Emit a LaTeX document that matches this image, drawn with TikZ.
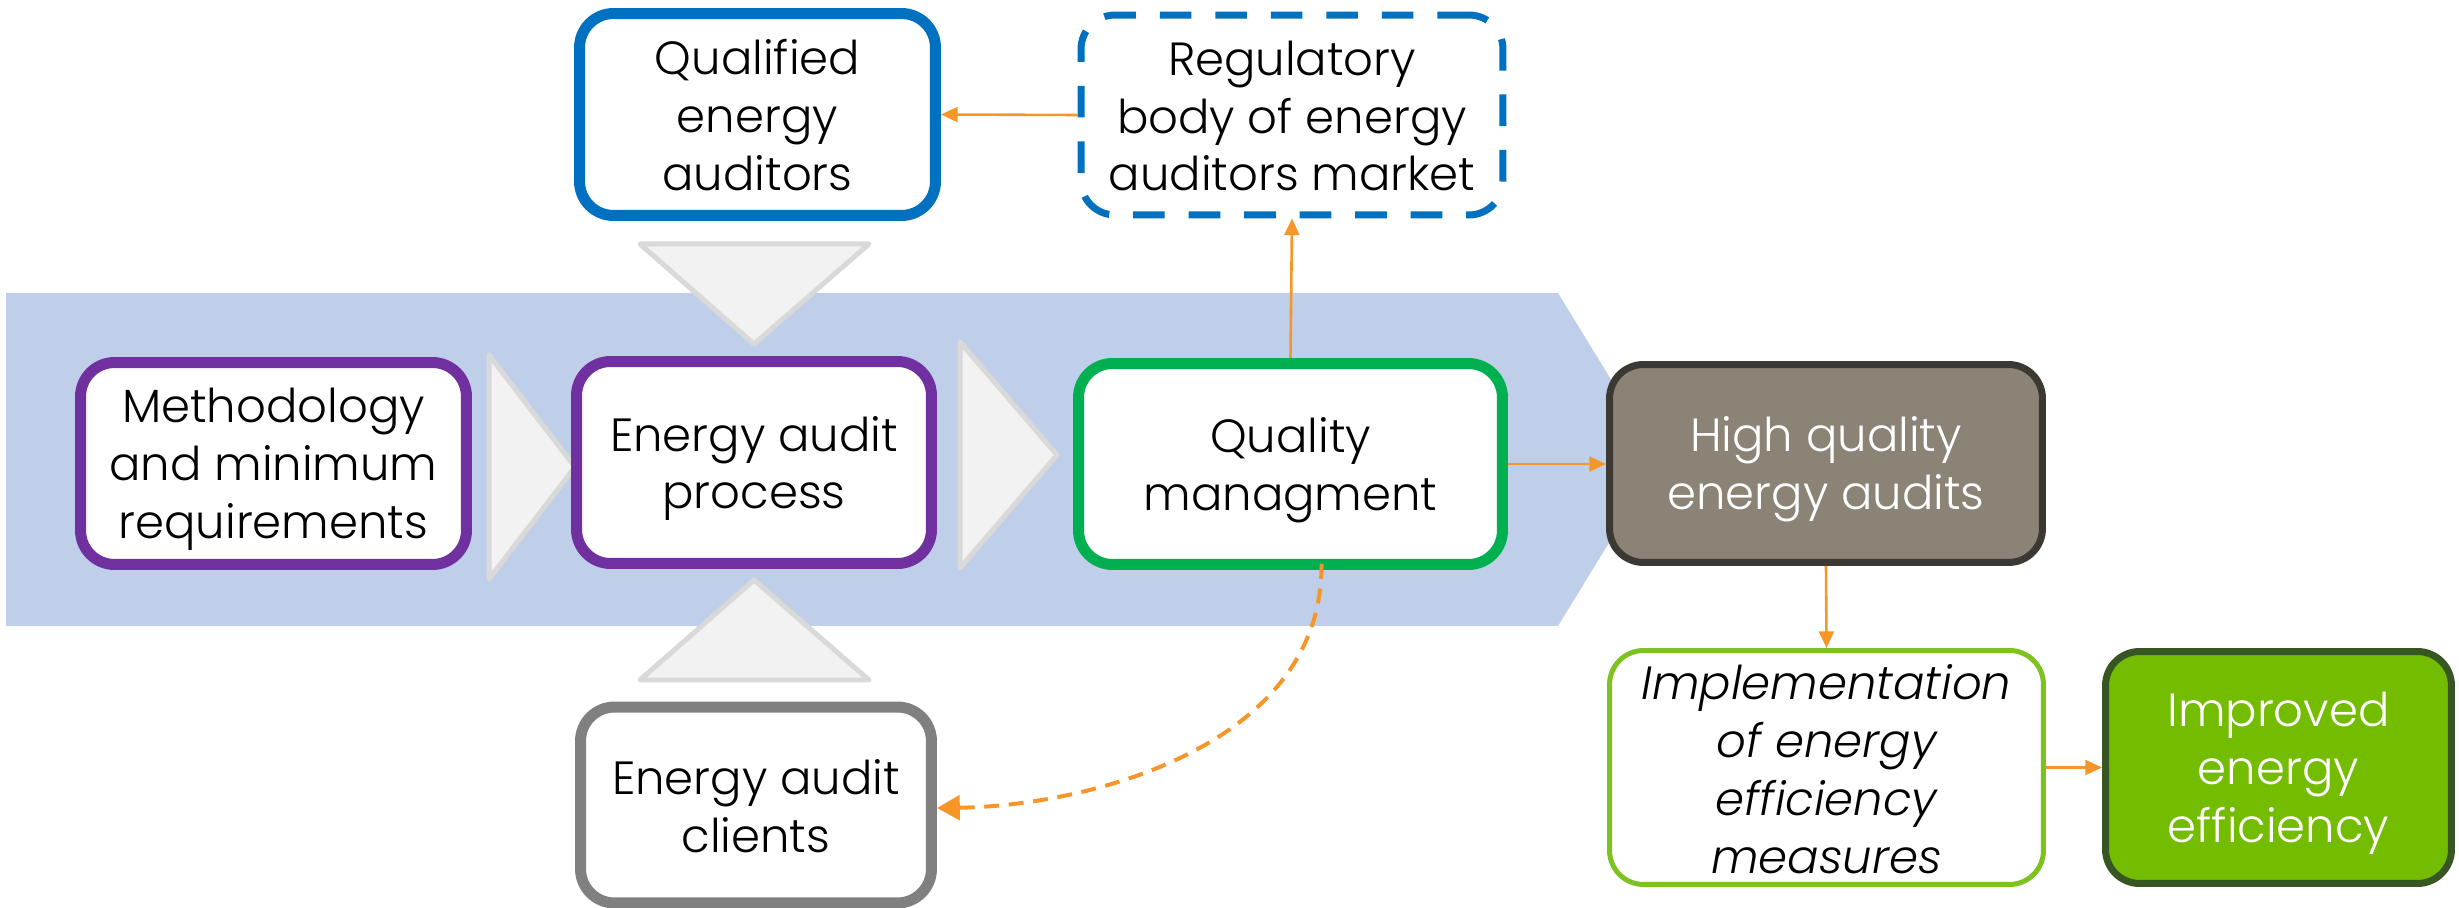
\documentclass[tikz,border=0pt]{standalone}
\usepackage{fontspec}
\setmainfont{Poppins Light}
\usetikzlibrary{arrows.meta,calc}

\definecolor{bandblue}{RGB}{191,207,234}
\definecolor{qblue}{RGB}{0,112,192}
\definecolor{qpurple}{RGB}{112,48,160}
\definecolor{qgreen}{RGB}{0,176,80}
\definecolor{hqfill}{RGB}{139,132,118}
\definecolor{hqline}{RGB}{60,56,52}
\definecolor{cligray}{RGB}{128,128,128}
\definecolor{implgreen}{RGB}{125,194,30}
\definecolor{imprfill}{RGB}{116,188,0}
\definecolor{imprline}{RGB}{55,86,35}
\definecolor{trifill}{RGB}{242,242,242}
\definecolor{triline}{RGB}{217,217,217}
\definecolor{flow}{RGB}{247,150,40}

% one drawing unit
\newcommand{\pu}{0.56905pt}

\tikzset{
  box/.style={rectangle, rounded corners=34*\pu, inner sep=0pt, fill=white},
  txt/.style={align=center, inner sep=0pt, font=\fontsize{26.5}{33}\selectfont},
  chevron/.style={fill=trifill, draw=triline, line width=5*\pu, line join=round},
  link/.style={draw=flow, line width=2.6*\pu, -{Triangle[length=9.5pt,width=8.5pt]}},
  feedback/.style={draw=flow, line width=4*\pu, dash pattern=on 8.5pt off 5.5pt,
    -{Triangle[length=13pt,width=14pt]}}
}

\begin{document}
\begin{tikzpicture}[x=0.02cm, y=-0.02cm]
\useasboundingbox (0,0) rectangle (2459,908);

% process band
\fill[bandblue] (6,293) -- (1558,293) -- (1660,459.5) -- (1558,626) -- (6,626) -- cycle;

% chevrons between the steps
\draw[chevron] (640,244) -- (869,244) -- (754,344) -- cycle;
\draw[chevron] (754,580) -- (869,680) -- (640,680) -- cycle;
\draw[chevron] (489,355) -- (575,467) -- (489,579) -- cycle;
\draw[chevron] (960,342) -- (1057,455) -- (960,568) -- cycle;

% boxes
\node[box, draw=qblue, line width=11*\pu, minimum width=356*\pu, minimum height=202*\pu]
  (qual) at (757.5,114.5) {};
\node[box, draw=qblue, line width=7*\pu, dash pattern=on 18pt off 13.6pt,
  minimum width=422*\pu, minimum height=200*\pu] (reg) at (1292,115) {};
\node[box, draw=qpurple, line width=11*\pu, minimum width=386*\pu, minimum height=202*\pu]
  (meth) at (273.5,463.5) {};
\node[box, draw=qpurple, line width=11*\pu, minimum width=355*\pu, minimum height=202*\pu]
  (proc) at (754,462.5) {};
\node[box, draw=qgreen, line width=11*\pu, minimum width=424*\pu, minimum height=201*\pu]
  (qm) at (1290.5,464) {};
\node[box, draw=hqline, fill=hqfill, line width=7*\pu,
  minimum width=433*\pu, minimum height=198*\pu] (high) at (1826,463.5) {};
\node[box, draw=implgreen, line width=5*\pu, minimum width=434*\pu, minimum height=234*\pu]
  (impl) at (1826.5,767.5) {};
\node[box, draw=imprline, fill=imprfill, line width=7*\pu,
  minimum width=346*\pu, minimum height=232*\pu] (impr) at (2278.5,767.5) {};
\node[box, draw=cligray, line width=11*\pu, minimum width=351*\pu, minimum height=196*\pu]
  (cli) at (756,805) {};

% box texts
\node[txt] (qual-t) at ($(qual)+(0,1)$) {Qualified\\energy\\auditors};
\node[txt] (reg-t) at ($(reg)+(0,1)$) {Regulatory\\body of energy\\auditors market};
\node[txt] (meth-t) at ($(meth)+(0,6)$) {Methodology\\and minimum\\requirements};
\node[txt] (proc-t) at ($(proc)+(0,6)$) {Energy audit\\process};
\node[txt] (qm-t) at ($(qm)+(0,6)$) {Quality\\managment};
\node[txt, text=white] (high-t) at ($(high)+(0,6)$) {High quality\\energy audits};
\node[txt, font=\fontsize{26.5}{33}\selectfont\itshape] (impl-t) at ($(impl)+(0,2)$)
  {Implementation\\of energy\\efficiency\\measures};
\node[txt, text=white] (impr-t) at ($(impr)+(0,6)$) {Improved\\energy\\efficiency};
\node[txt] (cli-t) at ($(cli)+(0,1)$) {Energy audit\\clients};

% connectors
\draw[link] (reg.west) -- (qual.east);
\draw[link] (qm.north) -- (reg.south);
\draw[link] (qm.east) -- (high.west |- qm.east);
\draw[link] (high.south) -- (impl.north);
\draw[link] (impl.east) -- (impr.west);

\coordinate (qmout) at ($(qm.south)+(31,-6)$);
\coordinate (cliin) at ($(cli.east)+(0,3)$);
\draw[feedback] (qmout) .. controls (1323,745) and (1090,806) .. (cliin);
\end{tikzpicture}
\end{document}
